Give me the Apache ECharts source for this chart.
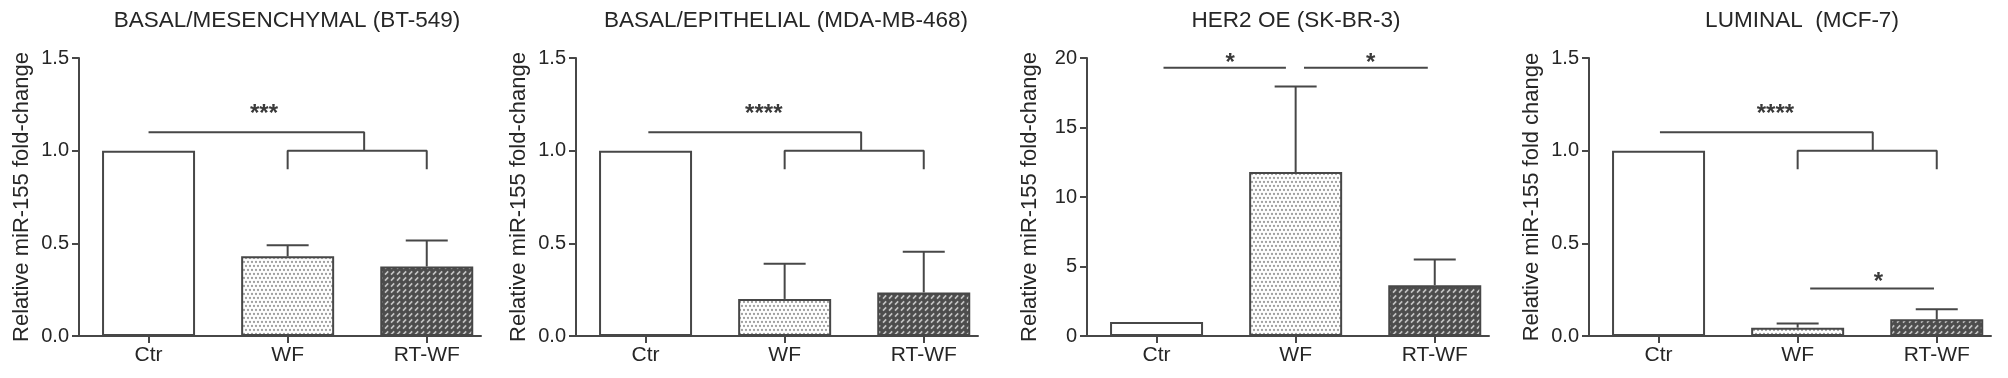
<!DOCTYPE html>
<html>
<head>
<meta charset="utf-8">
<script src="https://cdn.jsdelivr.net/npm/echarts@6/dist/echarts.min.js"></script>
<style>
  html, body { margin: 0; padding: 0; background: #fff; }
  #chart { width: 2008px; height: 378px; }
</style>
</head>
<body>
<div id="chart"></div>
<script>
// categories and panel texts
const categories = ["Ctr", "WF", "RT-WF"];
const titles = [
  "BASAL/MESENCHYMAL (BT-549)",
  "BASAL/EPITHELIAL (MDA-MB-468)",
  "HER2 OE (SK-BR-3)",
  "LUMINAL  (MCF-7)",
];
const yNames = [
  "Relative miR-155 fold-change",
  "Relative miR-155 fold-change",
  "Relative miR-155 fold-change",
  "Relative miR-155 fold change",
];
const yMax = [1.5, 1.5, 20, 1.5];
const yStep = [0.5, 0.5, 5, 0.5];

// mean values (Ctr, WF, RT-WF) and upper error (SEM)
const meanBT549 = [1.0, 0.43, 0.375];
const semBT549 = [0, 0.06, 0.14];
const meanMDA468 = [1.0, 0.2, 0.235];
const semMDA468 = [0, 0.19, 0.22];
const meanSKBR3 = [1.0, 11.8, 3.65];
const semSKBR3 = [0, 6.15, 1.85];
const meanMCF7 = [1.0, 0.045, 0.09];
const semMCF7 = [0, 0.022, 0.054];

// significance brackets, points as [category position, value]
const bracketsBT549 = [
  [[0, 1.1], [1.55, 1.1], [1.55, 1.0]],
  [[1, 0.9], [1, 1.0], [2, 1.0], [2, 0.9]],
];
const bracketsMDA468 = [
  [[0.02, 1.1], [1.55, 1.1], [1.55, 1.0]],
  [[1, 0.9], [1, 1.0], [2, 1.0], [2, 0.9]],
];
const bracketsSKBR3 = [
  [[0.05, 19.3], [0.93, 19.3]],
  [[1.06, 19.3], [1.95, 19.3]],
];
const bracketsMCF7 = [
  [[0.01, 1.1], [1.54, 1.1], [1.54, 1.0]],
  [[1, 0.9], [1, 1.0], [2, 1.0], [2, 0.9]],
  [[1.09, 0.256], [1.98, 0.256]],
];

// stars: [category position, value, text]
const starsBT549 = [[0.83, 1.23, "***"]];
const starsMDA468 = [[0.85, 1.23, "****"]];
const starsSKBR3 = [[0.53, 20.07, "*"], [1.54, 20.07, "*"]];
const starsMCF7 = [[0.84, 1.23, "****"], [1.58, 0.322, "*"]];

const means = [meanBT549, meanMDA468, meanSKBR3, meanMCF7];
const sems = [semBT549, semMDA468, semSKBR3, semMCF7];
const brackets = [bracketsBT549, bracketsMDA468, bracketsSKBR3, bracketsMCF7];
const stars = [starsBT549, starsMDA468, starsSKBR3, starsMCF7];

// layout
const gridLeft = [79, 576, 1087, 1589];
const titleX = [287, 786, 1296, 1802];
const font = '"Liberation Sans", Arial, sans-serif';
const lineColor = "#474747";
const textColor = "#262626";

// fill patterns for the bars
function dotPattern() {
  const c = document.createElement("canvas");
  c.width = 8;
  c.height = 8;
  const ctx = c.getContext("2d");
  ctx.fillStyle = "#ffffff";
  ctx.fillRect(0, 0, 8, 8);
  ctx.fillStyle = "#a0a0a0";
  [[2, 2], [6, 2], [0, 6], [4, 6], [8, 6]].forEach(([x, y]) => {
    ctx.beginPath();
    ctx.arc(x, y, 1.15, 0, Math.PI * 2);
    ctx.fill();
  });
  return c;
}

function hatchPattern() {
  const c = document.createElement("canvas");
  c.width = 6;
  c.height = 6;
  const ctx = c.getContext("2d");
  ctx.fillStyle = "#4d4d4d";
  ctx.fillRect(0, 0, 6, 6);
  ctx.strokeStyle = "#c4c4c4";
  ctx.lineWidth = 1.6;
  ctx.beginPath();
  ctx.moveTo(1, 4.6);
  ctx.lineTo(4.2, 1.4);
  ctx.stroke();
  return c;
}

const barFills = [
  "#ffffff",
  { image: dotPattern(), repeat: "repeat" },
  { image: hatchPattern(), repeat: "repeat" },
];

const chart = echarts.init(document.getElementById("chart"), null, { renderer: "canvas" });

const grids = [];
const xAxes = [];
const yAxes = [];
const series = [];
const graphics = [];

for (let i = 0; i < 4; i++) {
  grids.push({ left: gridLeft[i], top: 58, width: 402, height: 278 });

  xAxes.push({
    type: "value",
    gridIndex: i,
    min: -0.5,
    max: 2.39,
    axisLine: { show: true, onZero: false, lineStyle: { color: lineColor, width: 2 } },
    axisTick: { show: true, length: 7, customValues: [0, 1, 2], lineStyle: { color: lineColor, width: 2 } },
    axisLabel: {
      customValues: [0, 1, 2],
      formatter: (v) => categories[Math.round(v)],
      fontSize: 21,
      fontFamily: font,
      color: textColor,
      margin: 9,
    },
    splitLine: { show: false },
  });

  yAxes.push({
    type: "value",
    gridIndex: i,
    min: 0,
    max: yMax[i],
    interval: yStep[i],
    name: yNames[i],
    nameLocation: "middle",
    nameGap: 46,
    nameTextStyle: { fontSize: 22, fontFamily: font, color: textColor },
    axisLine: { show: true, onZero: false, lineStyle: { color: lineColor, width: 2 } },
    axisTick: { show: true, length: 7, lineStyle: { color: lineColor, width: 2 } },
    axisLabel: {
      fontSize: 20,
      fontFamily: font,
      color: textColor,
      margin: 10,
      formatter: (v) => (yMax[i] < 5 ? v.toFixed(1) : String(v)),
    },
    splitLine: { show: false },
  });

  // bars
  series.push({
    type: "bar",
    xAxisIndex: i,
    yAxisIndex: i,
    barWidth: 93,
    data: means[i].map((m, k) => ({
      value: [k, m],
      itemStyle: { color: barFills[k], borderColor: lineColor, borderWidth: 2 },
    })),
    z: 2,
  });

  // upper error bars
  series.push({
    type: "custom",
    xAxisIndex: i,
    yAxisIndex: i,
    data: means[i].map((m, k) => [k, m, sems[i][k]]).filter((d) => d[2] > 0),
    renderItem: (params, api) => {
      const p0 = api.coord([api.value(0), api.value(1)]);
      const p1 = api.coord([api.value(0), api.value(1) + api.value(2)]);
      const st = { stroke: lineColor, lineWidth: 2 };
      return {
        type: "group",
        children: [
          { type: "line", shape: { x1: p0[0], y1: p0[1], x2: p1[0], y2: p1[1] }, style: st },
          { type: "line", shape: { x1: p1[0] - 21, y1: p1[1], x2: p1[0] + 21, y2: p1[1] }, style: st },
        ],
      };
    },
    z: 3,
  });

  // significance brackets
  brackets[i].forEach((b) => {
    series.push({
      type: "line",
      xAxisIndex: i,
      yAxisIndex: i,
      data: b,
      symbol: "none",
      clip: false,
      lineStyle: { color: lineColor, width: 2 },
      z: 3,
    });
  });

  // stars
  series.push({
    type: "custom",
    xAxisIndex: i,
    yAxisIndex: i,
    clip: false,
    data: stars[i].map((s, k) => [s[0], s[1], k]),
    renderItem: (params, api) => {
      const p = api.coord([api.value(0), api.value(1)]);
      return {
        type: "text",
        x: p[0],
        y: p[1] + 6,
        style: {
          text: stars[i][api.value(2)][2],
          fill: "#3a3a3a",
          font: "bold 24px " + font,
          align: "center",
          verticalAlign: "middle",
          textAlign: "center",
          textVerticalAlign: "middle",
        },
      };
    },
    z: 4,
  });

  // panel titles
  graphics.push({
    type: "text",
    x: titleX[i],
    y: 21,
    style: {
      text: titles[i],
      fill: textColor,
      font: "22.5px " + font,
      align: "center",
      verticalAlign: "middle",
      textAlign: "center",
      textVerticalAlign: "middle",
    },
  });
}

chart.setOption({
  animation: false,
  backgroundColor: "#ffffff",
  grid: grids,
  xAxis: xAxes,
  yAxis: yAxes,
  series: series,
  graphic: graphics,
});
</script>
</body>
</html>
